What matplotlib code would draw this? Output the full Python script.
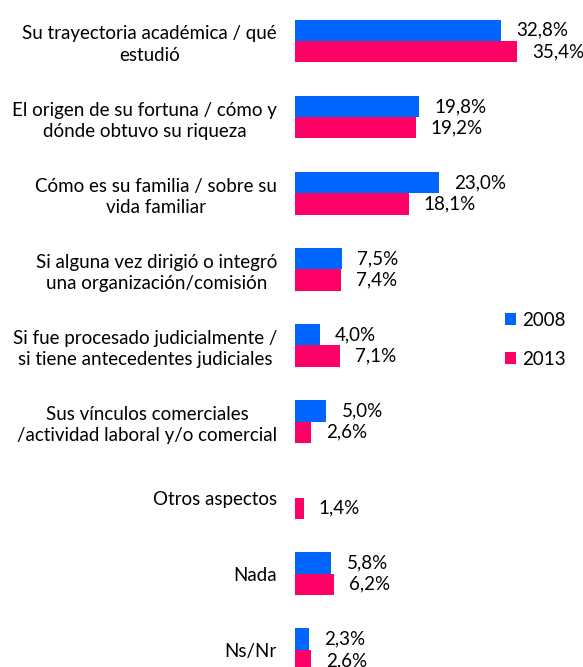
import numpy as np
import matplotlib.pyplot as plt

categories = [
    "Su trayectoria académica / qué\nestudió",
    "El origen de su fortuna / cómo y\ndónde obtuvo su riqueza",
    "Cómo es su familia / sobre su\nvida familiar",
    "Si alguna vez dirigió o integró\nuna organización/comisión",
    "Si fue procesado judicialmente /\nsi tiene antecedentes judiciales",
    "Sus vínculos comerciales\n/actividad laboral y/o comercial",
    "Otros aspectos",
    "Nada",
    "Ns/Nr",
]
vals_2008 = [32.8, 19.8, 23.0, 7.5, 4.0, 5.0, 0.0, 5.8, 2.3]
vals_2013 = [35.4, 19.2, 18.1, 7.4, 7.1, 2.6, 1.4, 6.2, 2.6]
series_names = ["2008", "2013"]

blue = "#0066FF"
pink = "#FF0066"
FONT = "Lato"
FS = 13.5

W, H = 583, 667
fig = plt.figure(figsize=(W / 100, H / 100), dpi=100)

# axes spans from the bar baseline to the right edge of the figure
x0 = 295
ax = fig.add_axes([x0 / W, 0, 1 - x0 / W, 1])
px_per_pct = 6.28
ax.set_xlim(0, (W - x0) / px_per_pct)

step = 76.1
top = 41
ax.set_ylim((H - top) / step, -top / step)

y = np.arange(len(categories))
h = 0.28
b1 = ax.barh(y - h / 2, vals_2008, height=h, color=blue, label=series_names[0])
b2 = ax.barh(y + h / 2, vals_2013, height=h, color=pink, label=series_names[1])

off = 15 / px_per_pct
for bars, vals in [(b1, vals_2008), (b2, vals_2013)]:
    for rect, v in zip(bars, vals):
        if v == 0:
            continue
        ax.text(v + off, rect.get_y() + rect.get_height() / 2,
                f"{v:.1f}%".replace(".", ","), va="center", ha="left",
                fontsize=FS, family=FONT, color="#000000")

ax.set_yticks(y)
ax.set_yticklabels(categories, fontsize=FS, family=FONT, multialignment="center",
                   linespacing=1.3)
ax.tick_params(axis="y", length=0, pad=13)
ax.set_xticks([])
for s in ax.spines.values():
    s.set_visible(False)

leg = ax.legend(handles=[b1, b2], loc="upper left",
                bbox_to_anchor=((505 - x0) / (W - x0), 1 - 312 / H),
                frameon=False, prop={"family": FONT, "size": FS},
                handlelength=0.6, handleheight=0.6, handletextpad=0.3,
                labelspacing=1.15, borderpad=0, borderaxespad=0)

fig.savefig("out.png", dpi=100)
